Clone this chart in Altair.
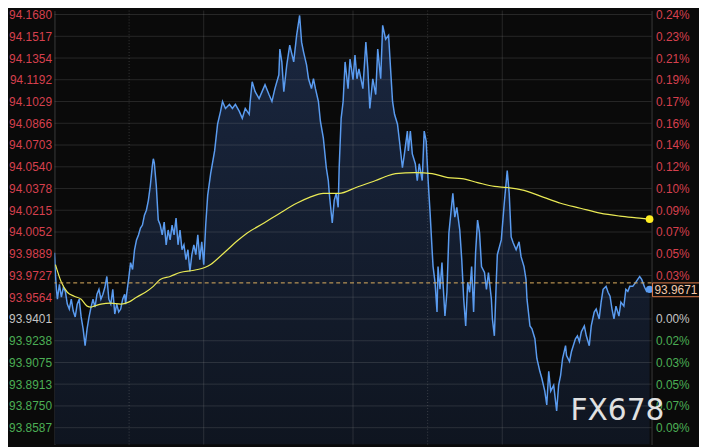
import altair as alt
import pandas as pd

# ---- data ----
# time index (ticks from the left edge of the session) and price
t_price = [0, 1, 2, 3, 5, 7, 9, 11, 13, 15, 17, 19, 21, 23, 25, 27, 29, 31, 33, 35, 37, 39, 41, 43, 45, 47, 49, 51, 53, 55,
           57, 59, 61, 63, 65, 67, 69, 71, 72, 73, 75, 77, 79, 81, 83, 85, 87, 89, 91, 93, 95, 97, 99, 100, 101, 103, 105,
           107, 109, 111, 113, 115, 117, 119, 121, 123, 125, 127, 129, 131, 133, 135, 137, 139, 141, 143, 145, 147, 149,
           151, 153, 155, 158, 162, 165, 168, 170, 173, 177, 180, 183, 187, 190, 193, 197, 198, 200, 203, 207, 210, 213,
           217, 220, 223, 227, 228, 230, 232, 235, 238, 242, 245, 248, 250, 252, 255, 257, 260, 262, 264, 267, 269, 272,
           273, 275, 277, 278, 281, 283, 285, 287, 288, 290, 292, 294, 297, 299, 302, 304, 306, 308, 312, 315, 317, 319,
           322, 325, 327, 330, 332, 335, 338, 340, 342, 344, 347, 349, 352, 354, 357, 358, 360, 362, 365, 367, 369, 372,
           374, 376, 378, 380, 382, 383, 385, 387, 388, 390, 392, 393, 395, 397, 399, 401, 403, 405, 407, 410, 412, 414,
           416, 418, 420, 422, 424, 426, 428, 430, 432, 435, 437, 439, 442, 443, 445, 447, 448, 452, 455, 458, 460, 462,
           464, 467, 470, 472, 475, 477, 478, 481, 483, 486, 488, 491, 493, 496, 498, 500, 502, 505, 508, 510, 512, 514,
           517, 518, 521, 523, 527, 529, 531, 533, 536, 538, 541, 543, 546, 548, 551, 553, 555, 558, 560, 562, 564, 566,
           568, 571, 573, 576, 578, 580, 582, 585, 588, 590, 592, 594, 597, 599, 602]
price = [93.9897, 93.9734, 93.9623, 93.9549, 93.9660, 93.9564, 93.9638, 93.9608, 93.9512, 93.9475, 93.9549, 93.9460,
         93.9416, 93.9512, 93.9549, 93.9416, 93.9327, 93.9201, 93.9327, 93.9416, 93.9490, 93.9549, 93.9490, 93.9586,
         93.9623, 93.9549, 93.9586, 93.9638, 93.9719, 93.9549, 93.9512, 93.9623, 93.9438, 93.9512, 93.9453, 93.9475,
         93.9549, 93.9586, 93.9512, 93.9586, 93.9697, 93.9823, 93.9771, 93.9919, 93.9993, 94.0030, 94.0082, 94.0104,
         94.0178, 94.0215, 94.0289, 94.0400, 94.0548, 94.0600, 94.0570, 94.0400, 94.0141, 94.0104, 94.0030, 94.0126,
         93.9956, 94.0067, 93.9993, 94.0104, 94.0030, 94.0156, 93.9956, 94.0067, 93.9919, 93.9956, 93.9845, 93.9919,
         93.9756, 93.9882, 93.9956, 93.9882, 94.0030, 93.9845, 93.9978, 93.9808, 94.0104, 94.0326, 94.0489, 94.0659,
         94.0859, 94.0955, 94.1029, 94.0977, 94.1007, 94.0977, 94.1007, 94.0955, 94.0903, 94.0977, 94.0933, 94.1029,
         94.1177, 94.1103, 94.1051, 94.1103, 94.1155, 94.1081, 94.1029, 94.1125, 94.1229, 94.1421, 94.1325, 94.1103,
         94.1303, 94.1451, 94.1325, 94.1525, 94.1673, 94.1473, 94.1399, 94.1303, 94.1199, 94.1125, 94.1199, 94.1125,
         94.1029, 94.0881, 94.0755, 94.0681, 94.0533, 94.0437, 94.0341, 94.0119, 94.0289, 94.0341, 94.0237, 94.0533,
         94.0903, 94.1029, 94.1325, 94.1125, 94.1347, 94.1192, 94.1377, 94.1199, 94.1273, 94.1125, 94.1473, 94.1273,
         94.0977, 94.1199, 94.1081, 94.1421, 94.1199, 94.1599, 94.1495, 94.1525, 94.1273, 94.1029, 94.0933, 94.0859,
         94.0733, 94.0533, 94.0637, 94.0807, 94.0659, 94.0807, 94.0637, 94.0563, 94.0437, 94.0563, 94.0437, 94.0807,
         94.0733, 94.0437, 94.0193, 93.9919, 93.9793, 93.9675, 93.9453, 93.9793, 93.9623, 93.9823, 93.9675, 93.9423,
         93.9601, 94.0045, 94.0193, 94.0341, 94.0163, 94.0237, 94.0067, 93.9845, 93.9549, 93.9349, 93.9675, 93.9601,
         93.9793, 93.9453, 93.9897, 94.0141, 94.0045, 93.9793, 93.9749, 93.9623, 93.9749, 93.9549, 93.9401, 93.9275,
         93.9697, 93.9882, 93.9993, 94.0267, 94.0511, 94.0341, 94.0015, 93.9971, 93.9919, 93.9978, 93.9867, 93.9793,
         93.9697, 93.9549, 93.9349, 93.9327, 93.9253, 93.9105, 93.9009, 93.8957, 93.8861, 93.8757, 93.9009, 93.8861,
         93.8905, 93.8713, 93.8905, 93.8979, 93.9105, 93.9201, 93.9127, 93.9083, 93.9157, 93.9253, 93.9275, 93.9231,
         93.9305, 93.9349, 93.9275, 93.9201, 93.9349, 93.9453, 93.9475, 93.9401, 93.9527, 93.9623, 93.9645, 93.9601,
         93.9571, 93.9475, 93.9401, 93.9497, 93.9423, 93.9527, 93.9497, 93.9623, 93.9608, 93.9645, 93.9645, 93.9675,
         93.9697, 93.9719, 93.9697, 93.9638, 93.9608, 93.9623]

# moving average line
t_ma = [1, 7, 13, 20, 27, 33, 37, 40, 47, 57, 67, 75, 83, 92, 100, 107, 117, 127, 140, 145, 152, 158, 165, 175, 185,
        195, 212, 228, 245, 258, 272, 288, 305, 325, 335, 345, 365, 382, 398, 412, 428, 445, 458, 475, 495, 512, 532,
        552, 572, 592, 602]
ma = [93.9808, 93.9675, 93.9601, 93.9571, 93.9549, 93.9497, 93.9490, 93.9497, 93.9512, 93.9519, 93.9512, 93.9527,
      93.9564, 93.9601, 93.9645, 93.9697, 93.9719, 93.9749, 93.9764, 93.9771, 93.9786, 93.9808, 93.9852, 93.9919,
      93.9986, 94.0045, 94.0119, 94.0193, 94.0267, 94.0311, 94.0341, 94.0341, 94.0385, 94.0437, 94.0467, 94.0489,
      94.0496, 94.0489, 94.0459, 94.0452, 94.0422, 94.0393, 94.0385, 94.0363, 94.0311, 94.0267, 94.0230, 94.0193,
      94.0171, 94.0156, 94.0148]

y_ticks = [94.1680, 94.1517, 94.1354, 94.1192, 94.1029, 94.0866, 94.0703, 94.0540, 94.0378, 94.0215,
           94.0052, 93.9889, 93.9727, 93.9564, 93.9401, 93.9238, 93.9075, 93.8913, 93.8750, 93.8587]
prev_close = 93.9401
last_price = 93.9671
solid_v = [151, 302, 453]
dotted_v = [75.5, 377.5]

Y_DOMAIN = [93.8461, 94.17096]
X_DOMAIN = [0, 604]
W, H = 604, 439
PX = (Y_DOMAIN[1] - Y_DOMAIN[0]) / H  # price per pixel (for the label box height)

RED, GRAY, GREEN = "#d6404e", "#c4c4c4", "#4cae55"
FONT = "Liberation Sans"

df_price = pd.DataFrame({"t": t_price, "p": price})
df_ma = pd.DataFrame({"t": t_ma, "m": ma})
df_ticks = pd.DataFrame({"v": y_ticks})
df_solid = pd.DataFrame({"t": solid_v})
df_dot = pd.DataFrame({"t": dotted_v})
df_last = pd.DataFrame({"t": [t_price[-1]], "p": [price[-1]], "m": [ma[-1]]})

xs = alt.Scale(domain=X_DOMAIN, nice=False, zero=False)
ys = alt.Scale(domain=Y_DOMAIN, nice=False, zero=False)

label_color = {
    "condition": [
        {"test": "datum.value > %f" % (prev_close + 0.005), "value": RED},
        {"test": "datum.value > %f" % (prev_close - 0.005), "value": GRAY},
    ],
    "value": GREEN,
}

left_axis = alt.Axis(orient="left", values=y_ticks, format=".4f", grid=False, ticks=False,
                     domain=True, domainColor="#3a3a3a", labelFont=FONT, labelFontSize=12,
                     labelPadding=3, labelColor=label_color, title=None, labelLimit=0)
right_axis = alt.Axis(orient="right", values=y_ticks, grid=False, ticks=False,
                      domain=True, domainColor="#3a3a3a", labelFont=FONT, labelFontSize=12,
                      labelPadding=4, labelColor=label_color, title=None, labelLimit=0,
                      labelExpr="abs(datum.value - 93.9564) < 0.00001 ? '' : "
                                "format(abs(datum.value - %f) / %f * 100, '.2f') + '%%'" % (prev_close, prev_close))

X = alt.X("t:Q", scale=xs, axis=None)

gradient = alt.Gradient(gradient="linear", x1=0, y1=0, x2=0, y2=1,
                        stops=[alt.GradientStop(color="#1a2740", offset=0),
                               alt.GradientStop(color="#0f1520", offset=1)])

area = alt.Chart(df_price).mark_area(color=gradient, clip=True).encode(
    x=X, y=alt.Y("p:Q", scale=ys, axis=left_axis), y2=alt.Y2(datum=Y_DOMAIN[0]))

hgrid = alt.Chart(df_ticks).mark_rule(color="#a0a0a0", opacity=0.2, strokeWidth=1).encode(
    y=alt.Y("v:Q", scale=ys, axis=right_axis))

vsolid = alt.Chart(df_solid).mark_rule(color="#a0a0a0", opacity=0.2, strokeWidth=1).encode(x=X)
vdot = alt.Chart(df_dot).mark_rule(color="#a0a0a0", opacity=0.3, strokeWidth=1, strokeDash=[1, 2]).encode(x=X)

line = alt.Chart(df_price).mark_line(color="#5a9bef", strokeWidth=1.5, clip=True).encode(
    x=X, y=alt.Y("p:Q", scale=ys, axis=None))

ma_line = alt.Chart(df_ma).mark_line(color="#eaea55", strokeWidth=1.2, interpolate="monotone").encode(
    x=X, y=alt.Y("m:Q", scale=ys, axis=None))

dash = alt.Chart(df_last).mark_rule(color="#e0b060", strokeWidth=1, strokeDash=[4, 3]).encode(
    y=alt.Y(datum=last_price, scale=ys, axis=None))

dot_ma = alt.Chart(df_last).mark_point(filled=True, size=60, color="#ffee22", opacity=1).encode(
    x=X, y=alt.Y("m:Q", scale=ys, axis=None))
dot_p = alt.Chart(df_last).mark_point(filled=True, size=55, color="#5a9bef", opacity=1).encode(
    x=X, y=alt.Y("p:Q", scale=ys, axis=None))

box = alt.Chart(df_last).mark_rect(fill="#0a0a0a", stroke="#e07b4a", strokeWidth=1, clip=False).encode(
    x=alt.value(W + 1), x2=alt.value(W + 60),
    y=alt.Y(datum=last_price, scale=ys, axis=None), y2=alt.Y2(datum=last_price - 14 * PX))
box_text = alt.Chart(df_last).mark_text(text="93.9671", color="#f2c9aa", font=FONT, fontSize=12,
                                         align="left", baseline="middle").encode(
    x=alt.value(W + 3), y=alt.Y(datum=last_price - 7 * PX, scale=ys, axis=None))

watermark = alt.Chart(df_last).mark_text(text="FX678", color="#ececec", opacity=0.95, font="DejaVu Sans",
                                          fontSize=30, align="left", baseline="alphabetic").encode(
    x=alt.value(522), y=alt.value(414))

chart = alt.layer(area, hgrid, vsolid, vdot, line, ma_line, dash, dot_ma, dot_p, box, box_text, watermark
                  ).resolve_scale(y="independent").properties(
    width=W, height=H,
    autosize=alt.AutoSizeParams(type="none"),
    padding={"left": 47, "top": 0, "right": 48, "bottom": 8},
    background="#0a0a0a",
).configure_view(strokeWidth=0)

chart.save("out.html", embed_options={"renderer": "svg", "actions": False})
